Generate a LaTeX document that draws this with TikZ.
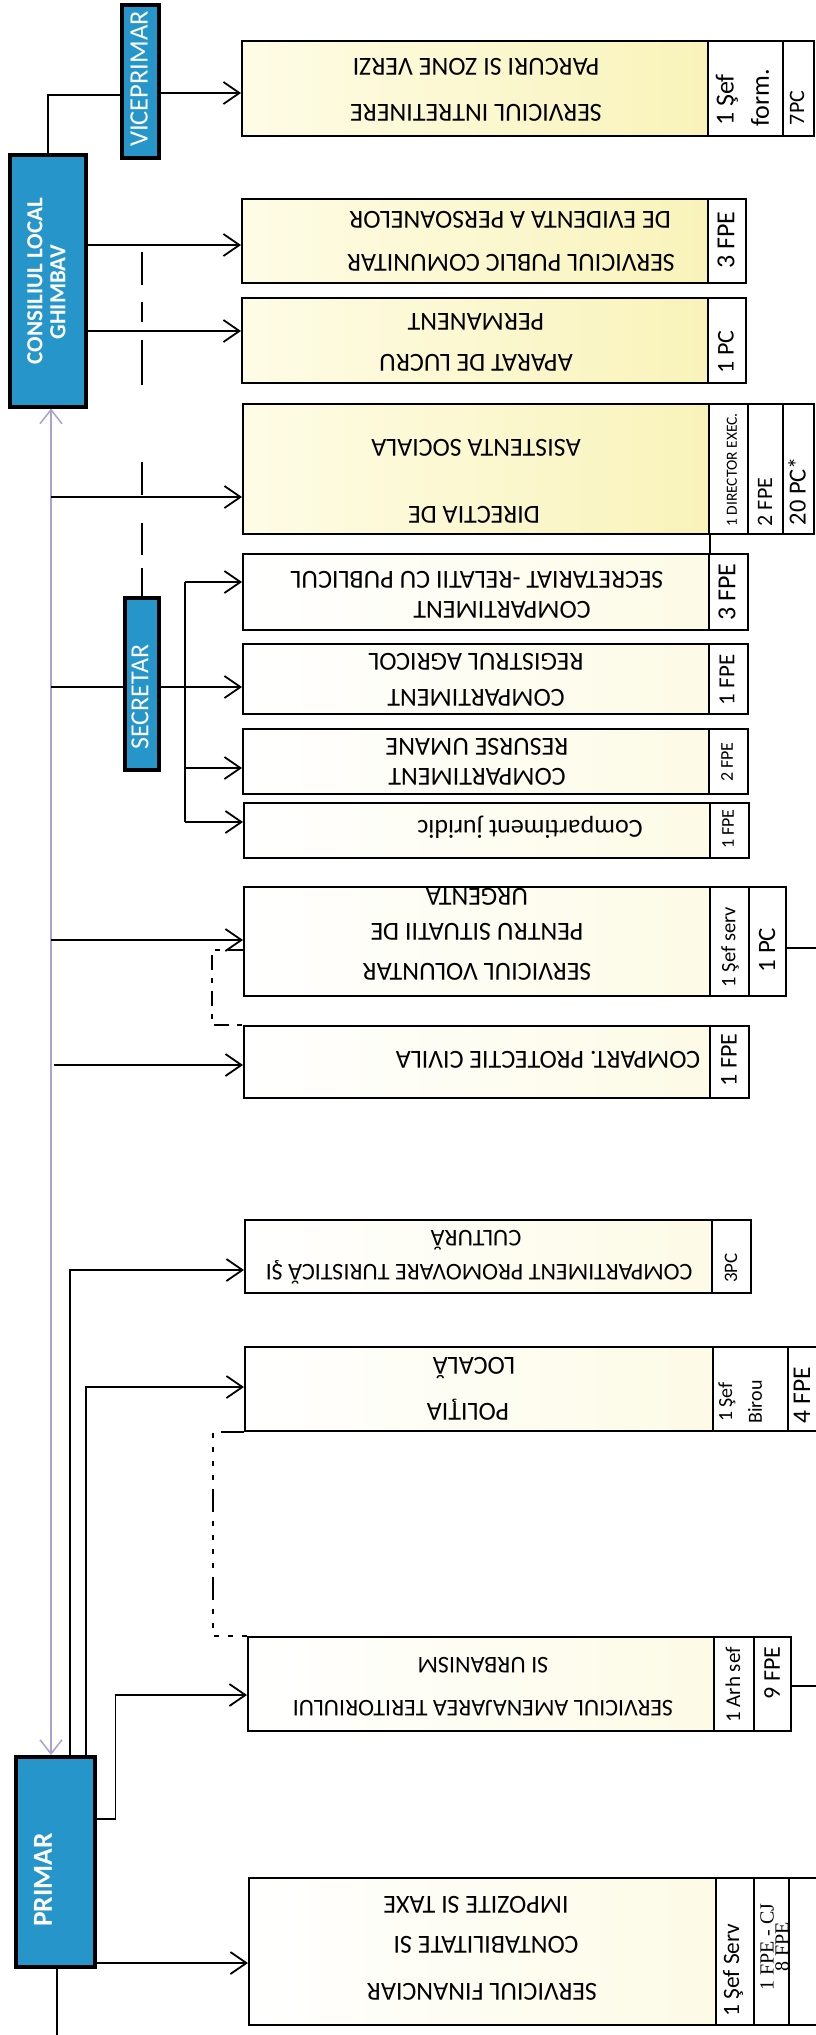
\documentclass[tikz,border=0pt]{standalone}
\usepackage{fontspec}
\setmainfont{Carlito}
\newfontfamily\serifcol{Liberation Serif}
\usetikzlibrary{arrows.meta}
\newcommand\fsz[1]{\fontsize{#1}{#1}\selectfont}
\definecolor{blu}{RGB}{38,150,202}
\definecolor{ylR}{RGB}{249,243,186}
\definecolor{ylL}{RGB}{254,252,230}
\definecolor{wR}{RGB}{253,251,230}
\definecolor{purp}{RGB}{172,160,204}
\begin{document}
\begin{tikzpicture}[x=1pt,y=-1pt,
  mb/.style={draw=black,line width=2pt,rectangle,inner sep=0pt,anchor=north west},
  yfill/.style={left color=ylL,right color=ylR},
  wfill/.style={left color=white,right color=wR},
  cfill/.style={fill=white},
  bb/.style={draw=black,line width=3.5pt,rectangle,inner sep=0pt,anchor=north west,fill=blu},
  tx/.style={rotate=180,inner sep=0pt,font=\fsz{26}},
  vt/.style={rotate=90,inner sep=0pt},
  bt/.style={rotate=90,inner sep=0pt,text=white},
  con/.style={line width=1.8pt,draw=black},
  arr/.style={con,-{Straight Barb[length=16pt,width=22pt]}},
  purpline/.style={line width=1.5pt,draw=purp,{Straight Barb[length=14pt,width=22pt]}-{Straight Barb[length=14pt,width=22pt]}},
  dsec/.style={line width=2pt,dash pattern=on 33pt off 17pt on 20pt off 18pt on 45pt off 77pt on 33pt off 28pt on 32pt off 13pt on 28pt off 10pt},
  ddot/.style={line width=2pt,dash pattern=on 23pt off 9pt on 5pt off 9pt on 5pt off 9pt on 5pt off 9pt on 5pt off 9pt},
  ddot2/.style={line width=2pt,dash pattern=on 15pt off 8pt on 5pt off 8pt}
]
\useasboundingbox (0,0) rectangle (815,2035);
\fill[white] (0,0) rectangle (815,2035);

% ---------- Box 1
\node[mb,yfill,minimum width=466pt,minimum height=95pt] (b1) at (241,40) {};
\node[mb,cfill,minimum width=75pt,minimum height=95pt] (b1c1) at (707,40) {};
\node[mb,cfill,minimum width=31pt,minimum height=95pt] (b1c2) at (782,40) {};
\node[tx] (b1l1) at (476,113) {SERVICIUL INTRETINERE};
\node[tx] (b1l2) at (476,67) {PARCURI SI ZONE VERZI};
\node[vt,font=\fsz{26}] (b1s1) at (727,100) {1 Şef};
\node[vt,font=\fsz{26}] (b1s2) at (760,98) {form.};
\node[vt,font=\fsz{22}] (b1s3) at (797,108) {7PC};

% ---------- Box 2
\node[mb,yfill,minimum width=466pt,minimum height=84pt] (b2) at (241,198) {};
\node[mb,cfill,minimum width=38pt,minimum height=84pt] (b2c1) at (707,198) {};
\node[tx] (b2l1) at (511,263) {SERVICIUL PUBLIC COMUNITAR};
\node[tx] (b2l2) at (510,220) {DE EVIDENTA A PERSOANELOR};
\node[vt,font=\fsz{26}] (b2s1) at (726,240) {3 FPE};

% ---------- Box 3
\node[mb,yfill,minimum width=466pt,minimum height=85pt] (b3) at (241,297) {};
\node[mb,cfill,minimum width=38pt,minimum height=85pt] (b3c1) at (707,297) {};
\node[tx] (b3l1) at (476,363) {APARAT DE LUCRU};
\node[tx] (b3l2) at (476,322) {PERMANENT};
\node[vt,font=\fsz{24}] (b3s1) at (726,352) {1 PC};

% ---------- Box 4
\node[mb,yfill,minimum width=466pt,minimum height=130pt] (b4) at (242,403) {};
\node[mb,cfill,minimum width=39pt,minimum height=130pt] (b4c1) at (708,403) {};
\node[mb,cfill,minimum width=35pt,minimum height=130pt] (b4c2) at (747,403) {};
\node[mb,cfill,minimum width=31pt,minimum height=130pt] (b4c3) at (782,403) {};
\node[tx] (b4l1) at (474,515) {DIRECTIA DE};
\node[tx] (b4l2) at (476,448) {ASISTENTA SOCIALA};
\node[vt,font=\fsz{15.5}] (b4s1) at (732,470) {1 DIRECTOR EXEC.};
\node[vt,font=\fsz{22}] (b4s2) at (765,502) {2 FPE};
\node[vt,font=\fsz{24.5}] (b4s3) at (797,491) {20 PC*};

% ---------- Box 5
\node[mb,wfill,minimum width=466pt,minimum height=76pt] (b5) at (242,553) {};
\node[mb,cfill,minimum width=39pt,minimum height=76pt] (b5c1) at (708,553) {};
\node[tx] (b5l1) at (502,610) {COMPARTIMENT};
\node[tx] (b5l2) at (477,580) {SECRETARIAT -RELATII CU PUBLICUL};
\node[vt,font=\fsz{26}] (b5s1) at (727,592) {3 FPE};

% ---------- Box 6
\node[mb,wfill,minimum width=466pt,minimum height=70pt] (b6) at (242,643) {};
\node[mb,cfill,minimum width=39pt,minimum height=70pt] (b6c1) at (708,643) {};
\node[tx] (b6l1) at (476,698) {COMPARTIMENT};
\node[tx] (b6l2) at (476,662) {REGISTRUL AGRICOL};
\node[vt,font=\fsz{23}] (b6s1) at (727,680) {1 FPE};

% ---------- Box 7
\node[mb,wfill,minimum width=466pt,minimum height=65pt] (b7) at (242,728) {};
\node[mb,cfill,minimum width=39pt,minimum height=65pt] (b7c1) at (708,728) {};
\node[tx] (b7l1) at (477,777) {COMPARTIMENT};
\node[tx] (b7l2) at (477,747) {RESURSE UMANE};
\node[vt,font=\fsz{18}] (b7s1) at (727,762) {2 FPE};

% ---------- Box 8
\node[mb,wfill,minimum width=466pt,minimum height=55pt] (b8) at (243,802) {};
\node[mb,cfill,minimum width=39pt,minimum height=55pt] (b8c1) at (709,802) {};
\node[tx] (b8l1) at (530,827) {Compartiment juridic};
\node[vt,font=\fsz{18}] (b8s1) at (728,829) {1 FPE};

% ---------- Box 9
\node[mb,wfill,minimum width=466pt,minimum height=109pt] (b9) at (243,886) {};
\node[mb,cfill,minimum width=39pt,minimum height=109pt] (b9c1) at (709,886) {};
\node[mb,cfill,minimum width=37pt,minimum height=109pt] (b9c2) at (748,886) {};
\node[tx] (b9l1) at (477,972) {SERVICIUL VOLUNTAR};
\node[tx] (b9l2) at (477,932) {PENTRU SITUATII DE};
\node[tx] (b9l3) at (477,897) {URGENTA};
\node[vt,font=\fsz{20.5}] (b9s1) at (730,947) {1 Şef serv};
\node[vt,font=\fsz{25}] (b9s2) at (767,950) {1 PC};

% ---------- Box 10
\node[mb,wfill,minimum width=466pt,minimum height=72pt] (b10) at (243,1025) {};
\node[mb,cfill,minimum width=39pt,minimum height=72pt] (b10c1) at (709,1025) {};
\node[tx] (b10l1) at (548,1060) {COMPART. PROTECTIE CIVILA};
\node[vt,font=\fsz{24}] (b10s1) at (729,1060) {1 FPE};

% ---------- Box 11
\node[mb,wfill,minimum width=467pt,minimum height=73pt] (b11) at (244,1219) {};
\node[mb,cfill,minimum width=39pt,minimum height=73pt] (b11c1) at (711,1219) {};
\node[tx,font=\fsz{24}] (b11l1) at (479,1272) {COMPARTIMENT PROMOVARE TURISTICĂ ŞI};
\node[tx,font=\fsz{24}] (b11l2) at (476,1240) {CULTURĂ};
\node[vt,font=\fsz{19}] (b11s1) at (731,1268) {3PC};

% ---------- Box 12
\node[mb,wfill,minimum width=468pt,minimum height=84pt] (b12) at (244,1346) {};
\node[mb,cfill,minimum width=75pt,minimum height=84pt] (b12c1) at (712,1346) {};
\node[mb,cfill,minimum width=33pt,minimum height=84pt] (b12c2) at (787,1346) {};
\node[tx] (b12l1) at (468,1410) {POLIŢIA};
\node[tx] (b12l2) at (474,1368) {LOCALĂ};
\node[vt,font=\fsz{20}] (b12s1) at (727,1402) {1 Şef};
\node[vt,font=\fsz{20}] (b12s2) at (755,1402) {Birou};
\node[vt,font=\fsz{25.5}] (b12s3) at (802,1395) {4 FPE};

% ---------- Box 13
\node[mb,wfill,minimum width=466pt,minimum height=94pt] (b13) at (247,1636) {};
\node[mb,cfill,minimum width=40pt,minimum height=94pt] (b13c1) at (713,1636) {};
\node[mb,cfill,minimum width=37pt,minimum height=94pt] (b13c2) at (753,1636) {};
\node[tx,font=\fsz{24}] (b13l1) at (483,1708) {SERVICIUL AMENAJAREA TERITORIULUI};
\node[tx,font=\fsz{24}] (b13l2) at (483,1665) {SI URBANISM};
\node[vt,font=\fsz{21}] (b13s1) at (733,1685) {1 Arh sef};
\node[vt,font=\fsz{24}] (b13s2) at (772,1673) {9 FPE};

% ---------- Box 14
\node[mb,wfill,minimum width=467pt,minimum height=147pt] (b14) at (248,1877) {};
\node[mb,cfill,minimum width=38pt,minimum height=147pt] (b14c1) at (715,1877) {};
\node[mb,cfill,minimum width=35pt,minimum height=147pt] (b14c2) at (753,1877) {};
\node[mb,cfill,minimum width=40pt,minimum height=147pt] (b14c3) at (788,1877) {};
\node[tx] (b14l1) at (482,1992) {SERVICIUL FINANCIAR};
\node[tx] (b14l2) at (486,1945) {CONTABILITATE SI};
\node[tx] (b14l3) at (476,1905) {IMPOZITE SI TAXE};
\node[vt,font=\fsz{23.4}] (b14s1) at (733,1970) {1 Şef Serv};
\node[vt,font=\serifcol\fsz{20}] (b14s2) at (767,1947) {1 FPE - CJ};
\node[vt,font=\serifcol\fsz{20}] (b14s3) at (782,1947) {8 FPE};

% ---------- Blue boxes
\node[bb,minimum width=37pt,minimum height=153pt] (vice) at (120,3) {};
\node[bb,minimum width=76pt,minimum height=252pt] (cons) at (8,153) {};
\node[bb,minimum width=34pt,minimum height=172pt] (secr) at (123,596) {};
\node[bb,minimum width=79pt,minimum height=210pt] (prim) at (14,1755) {};
\node[bt,font=\fsz{26.5}] (vicet) at (139,79) {VICEPRIMAR};
\node[bt,font=\bfseries\fsz{23}] (const1) at (35,281) {CONSILIUL LOCAL};
\node[bt,font=\bfseries\fsz{23}] (const2) at (58,292) {GHIMBAV};
\node[bt,font=\fsz{26}] (secrt) at (140,697) {SECRETAR};
\node[bt,font=\bfseries\fsz{27.5}] (primt) at (43,1880) {PRIMAR};

% ---------- Connectors
\draw[con] (cons.north) |- (vice.west |- 0,95);
\draw[arr] (vice.east |- 0,93) -- (b1.west |- 0,93);
\draw[arr] (cons.east |- 0,245) -- (b2.west |- 0,245);
\draw[arr] (cons.east |- 0,331) -- (b3.west |- 0,331);
\draw[dsec] (secr.north |- 0,252) -- (secr.north);
\draw[purpline] (cons.south -| 51,0) -- (prim.north -| 51,0);

\coordinate (j4) at (51,497);
\draw[arr] (j4) -- (b4.west |- j4);
\draw[con] (b4.south east) -- (b5.north east);

\coordinate (js) at (51,687);
\draw[con] (js) -- (secr.west |- js);
\draw[arr] (secr.east |- js) -- (b6.west |- js);
\coordinate (br1) at (185,582);
\coordinate (br2) at (185,768);
\coordinate (br3) at (185,822);
\draw[con] (br1) -- (br3);
\draw[arr] (br1) -- (b5.west |- br1);
\draw[arr] (br2) -- (b7.west |- br2);
\draw[arr] (br3) -- (b8.west |- br3);

\coordinate (j9) at (51,940);
\draw[arr] (j9) -- (b9.west |- j9);
\draw[ddot2] (b9.west |- 0,950) -- ++(-31,0) |- (b10.north west);
\draw[con] (b9c2.east |- 0,948) -- ++(40,0);
\coordinate (j10) at (54,1065);
\draw[arr] (j10) -- (b10.west |- j10);

\draw[arr] (prim.north -| 70,0) |- (b11.west |- 0,1270);
\draw[arr] (prim.north -| 86,0) |- (b12.west |- 0,1387);
\draw[ddot] (b12.south west) -- ++(-31,0) |- (b13.north west);
\draw[arr] (prim.east |- 0,1819) -- ++(19,0) |- (b13.west |- 0,1695);
\draw[con] (b13c2.east |- 0,1686) -- ++(40,0);
\draw[arr] (prim.east |- 0,1963) -- (b14.west |- 0,1963);
\draw[con] (prim.south -| 57,0) -- ++(0,75);
\end{tikzpicture}
\end{document}
